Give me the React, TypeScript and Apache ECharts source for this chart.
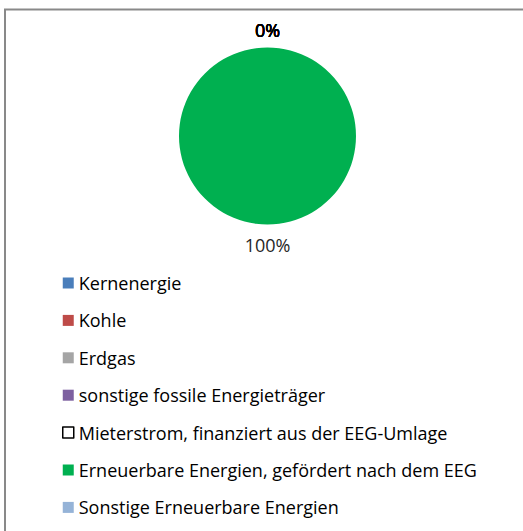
import React, { useEffect, useRef } from "react";
import * as echarts from "echarts";

const categories = [
  "Kernenergie",
  "Kohle",
  "Erdgas",
  "sonstige fossile Energieträger",
  "Mieterstrom, finanziert aus der EEG-Umlage",
  "Erneuerbare Energien, gefördert nach dem EEG",
  "Sonstige Erneuerbare Energien",
];
const values = [0, 0, 0, 0, 0, 100, 0];
const colors = ["#4a7ebb", "#be4b48", "#a5a5a5", "#7d60a0", "#ffffff", "#00b050", "#95b3d7"];

export default function App() {
  const ref = useRef<HTMLDivElement>(null);
  useEffect(() => {
    if (!ref.current) return;
    const chart = echarts.init(ref.current, null, { renderer: "svg" });
    const font = "Open Sans";
    chart.setOption({
      animation: false,
      backgroundColor: "#ffffff",
      graphic: [
        {
          type: "rect",
          shape: { x: 5, y: 9.5, width: 700, height: 700 },
          style: { fill: "none", stroke: "#898989", lineWidth: 2 },
          silent: true,
          z: 0,
        },
      ],
      legend: {
        orient: "vertical",
        left: 57,
        top: 268,
        padding: 5,
        itemWidth: 11,
        itemHeight: 11,
        itemGap: 17.4,
        icon: "rect",
        selectedMode: false,
        textStyle: { fontFamily: font, fontSize: 18, color: "#000", lineHeight: 20 },
        data: categories.map((c, i) =>
          i === 4
            ? { name: c, itemStyle: { color: "#ffffff", borderColor: "#000000", borderWidth: 1.5 } }
            : { name: c }
        ),
      },
      series: [
        {
          type: "pie",
          center: [267.5, 136],
          radius: 88.5,
          startAngle: 90,
          clockwise: true,
          avoidLabelOverlap: false,
          silent: true,
          label: {
            show: true,
            position: "outside",
            distanceToLabelLine: 0,
            fontFamily: font,
            fontSize: 18,
            color: "#000",
            formatter: (p: any) => `${Math.round(p.percent)}%`,
          },
          labelLine: { show: false, length: 18, length2: 0 },
          labelLayout: () => ({ align: "center" }),
          data: categories.map((c, i) => ({
            name: c,
            value: values[i],
            itemStyle: { color: colors[i] },
            ...(i === 5 ? { labelLine: { show: false, length: 20, length2: 0 }, label: { color: "#262626" } } : {}),
          })),
        },
      ],
    });
    return () => chart.dispose();
  }, []);
  return (
    <div
      ref={ref}
      style={{ position: "absolute", left: 0, top: 0, width: 523, height: 531 }}
    />
  );
}
